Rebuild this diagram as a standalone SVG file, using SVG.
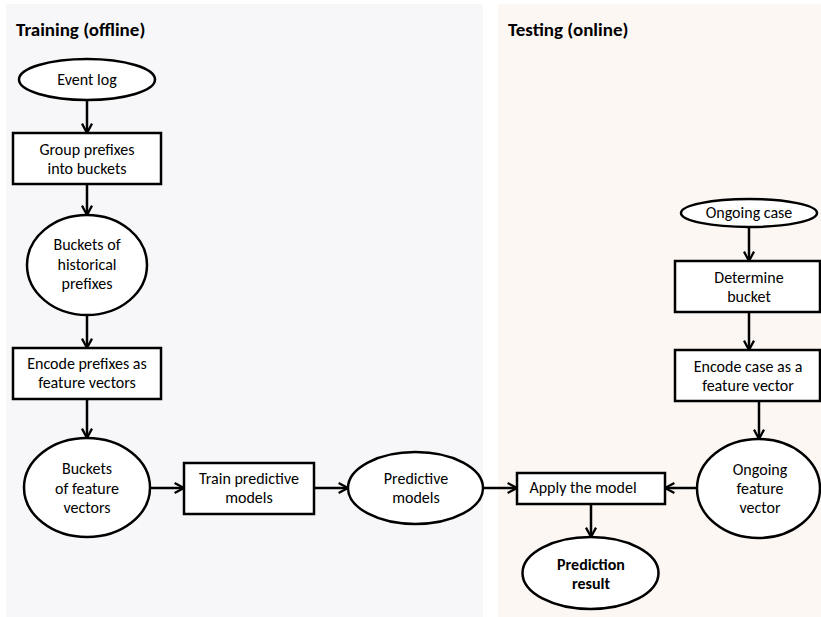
<svg xmlns="http://www.w3.org/2000/svg" width="821" height="617" viewBox="0 0 821 617">
<style>
.n{fill:#fff;stroke:#000;stroke-width:2.5}
.t{font-family:Carlito,Lato,"Liberation Sans",sans-serif;font-size:16px;fill:#000;text-anchor:middle}
.b{font-weight:bold}
.h{font-family:Carlito,Lato,"Liberation Sans",sans-serif;font-size:19px;font-weight:bold;fill:#000}
.c{stroke:#000;stroke-width:2.5;fill:none;marker-end:url(#ah)}
</style>
<defs>
<marker id="ah" viewBox="0 0 10 10" refX="9" refY="5" markerWidth="5" markerHeight="5" orient="auto" markerUnits="strokeWidth">
<path d="M1.5,1 L9,5 L1.5,9" fill="none" stroke="#000" stroke-width="1.8"/>
</marker>
</defs>
<rect width="821" height="617" fill="#fff"/>
<g id="bg-training"><rect x="6" y="4" width="477" height="613" fill="#f7f7f9"/>
<text class="h" x="16" y="36">Training (offline)</text></g>
<g id="bg-testing"><rect x="498" y="4" width="323" height="613" fill="#fdf7f4"/>
<text class="h" x="508" y="36">Testing (online)</text></g>
<g id="connectors">
<line class="c" x1="87" y1="100" x2="87" y2="133"/>
<line class="c" x1="87" y1="184" x2="87" y2="215"/>
<line class="c" x1="87" y1="315" x2="87" y2="348"/>
<line class="c" x1="87" y1="399" x2="87" y2="438"/>
<line class="c" x1="150" y1="488" x2="184" y2="488"/>
<line class="c" x1="314" y1="488" x2="348" y2="488"/>
<line class="c" x1="483" y1="488" x2="517" y2="488"/>
<line class="c" x1="697" y1="488" x2="665" y2="488"/>
<line class="c" x1="591" y1="504" x2="591" y2="537"/>
<line class="c" x1="749" y1="227" x2="749" y2="261"/>
<line class="c" x1="749" y1="312" x2="749" y2="350"/>
<line class="c" x1="759" y1="401" x2="759" y2="439"/>
</g>
<g id="event-log"><ellipse class="n" cx="87" cy="79.5" rx="68" ry="20.5"/>
<text class="t" x="87" y="85">Event log</text></g>
<g id="group-prefixes"><rect class="n" x="13" y="133" width="148" height="51"/>
<text class="t" x="87" y="155">Group prefixes</text><text class="t" x="87" y="174">into buckets</text></g>
<g id="buckets-historical"><ellipse class="n" cx="87" cy="265" rx="60" ry="50"/>
<text class="t" x="87" y="250">Buckets of</text><text class="t" x="87" y="269.5">historical</text><text class="t" x="87" y="289">prefixes</text></g>
<g id="encode-prefixes"><rect class="n" x="13" y="348" width="148" height="51"/>
<text class="t" x="87" y="369">Encode prefixes as</text><text class="t" x="87" y="388">feature vectors</text></g>
<g id="buckets-feature"><ellipse class="n" cx="87" cy="487.5" rx="63" ry="49.5"/>
<text class="t" x="87" y="474">Buckets</text><text class="t" x="87" y="493.5">of feature</text><text class="t" x="87" y="513">vectors</text></g>
<g id="train-models"><rect class="n" x="184" y="463" width="130" height="51"/>
<text class="t" x="249" y="484">Train predictive</text><text class="t" x="249" y="503">models</text></g>
<g id="predictive-models"><ellipse class="n" cx="415.5" cy="488" rx="67.5" ry="36"/>
<text class="t" x="416" y="484">Predictive</text><text class="t" x="416" y="503">models</text></g>
<g id="apply-model"><rect class="n" x="517" y="473" width="148" height="31"/>
<text class="t" x="583" y="493">Apply the model</text></g>
<g id="prediction-result"><ellipse class="n" cx="590.5" cy="573" rx="68" ry="36"/>
<text class="t b" x="591" y="570">Prediction</text><text class="t b" x="591" y="589">result</text></g>
<g id="ongoing-case"><ellipse class="n" cx="749" cy="213" rx="68" ry="14"/>
<text class="t" x="749" y="218">Ongoing case</text></g>
<g id="determine-bucket"><rect class="n" x="675" y="261" width="145" height="51"/>
<text class="t" x="749" y="283">Determine</text><text class="t" x="749" y="302">bucket</text></g>
<g id="encode-case"><rect class="n" x="675" y="350" width="145" height="51"/>
<text class="t" x="748" y="372">Encode case as a</text><text class="t" x="748" y="391">feature vector</text></g>
<g id="ongoing-feature"><ellipse class="n" cx="758.5" cy="488.5" rx="61.5" ry="49.5"/>
<text class="t" x="760" y="475">Ongoing</text><text class="t" x="760" y="494">feature</text><text class="t" x="760" y="513">vector</text></g>
</svg>
